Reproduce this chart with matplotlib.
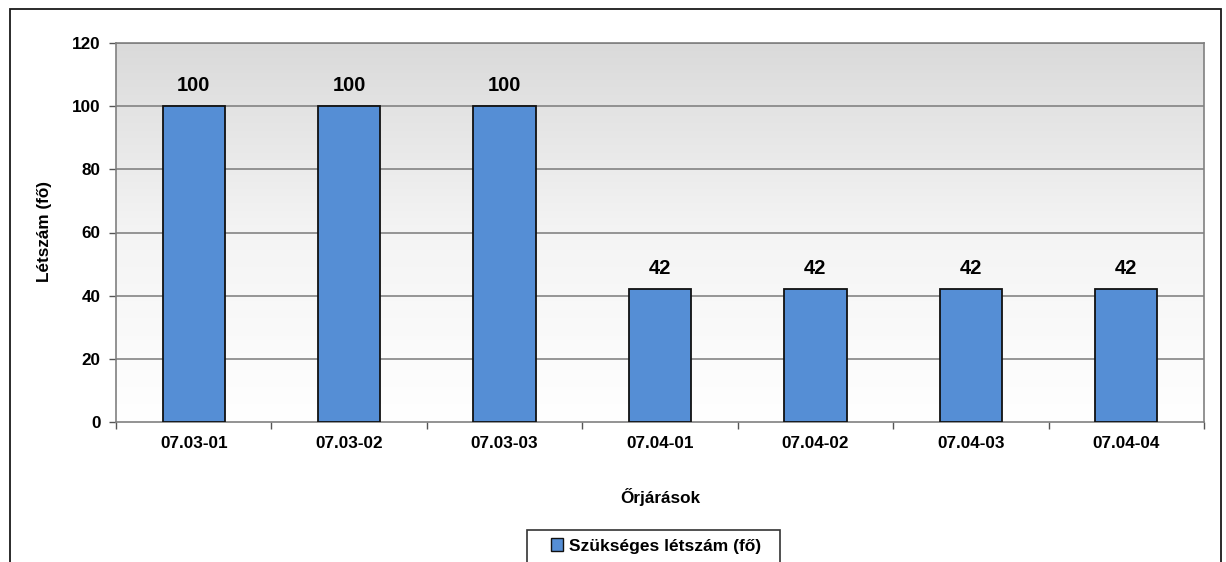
import numpy as np
import matplotlib
matplotlib.use("Agg")
import matplotlib.pyplot as plt
from matplotlib.patches import Rectangle, Patch

categories = ["07.03-01", "07.03-02", "07.03-03", "07.04-01", "07.04-02", "07.04-03", "07.04-04"]
values = [100, 100, 100, 42, 42, 42, 42]
y_ticks = [0, 20, 40, 60, 80, 100, 120]
series_name = "Szükséges létszám (fő)"
x_title = "Őrjárások"
y_title = "Létszám (fő)"

plt.rcParams["font.family"] = ["Liberation Sans", "DejaVu Sans"]
plt.rcParams["font.weight"] = "bold"

W, H = 1226, 562
fig = plt.figure(figsize=(W / 100, H / 100), dpi=100)
fig.patch.set_facecolor("white")

# chart-area border
fig.patches.append(Rectangle((10 / W, -0.05), (1221 - 10) / W, 1.05 - 9 / H,
                             transform=fig.transFigure, fill=False,
                             edgecolor="#1a1a1a", linewidth=1.3, zorder=0))

left, right, top, bottom = 116, 1204, 43, 422
ax = fig.add_axes([left / W, 1 - bottom / H, (right - left) / W, (bottom - top) / H])

n = len(categories)
x = np.arange(n)
ax.set_xlim(-0.5, n - 0.5)
ax.set_ylim(0, 120)

# plot-area background: gray at the top fading to white
grad = np.linspace(0, 1, 256).reshape(-1, 1)
cmap = matplotlib.colors.LinearSegmentedColormap.from_list("bg", ["#ffffff", "#f4f4f4", "#dadada"])
ax.imshow(grad, aspect="auto", cmap=cmap, origin="lower",
          extent=(-0.5, n - 0.5, 0, 120), zorder=0)

for yv in y_ticks[1:]:
    ax.axhline(yv, color="#7a7a7a", linewidth=1.1, zorder=1)

bars = ax.bar(x, values, width=0.4, color="#558ed5", edgecolor="#111111",
              linewidth=1.3, zorder=3)
for xi, v in zip(x, values):
    ax.text(xi, v + 3.5, f"{v}", ha="center", va="bottom", fontsize=14.5,
            fontweight="bold", color="black", zorder=4)

ax.set_yticks(y_ticks)
ax.set_yticklabels([str(t) for t in y_ticks], fontsize=12.3, fontweight="bold")
ax.set_xticks(x)
ax.set_xticklabels(categories, fontsize=12.3, fontweight="bold")
ax.tick_params(axis="x", length=0, pad=10)
ax.set_xticks(np.arange(-0.5, n, 1.0), minor=True)
ax.tick_params(axis="x", which="minor", length=5, direction="out", color="#555555", width=1)
ax.tick_params(axis="y", length=5, direction="out", color="#555555", width=1, pad=6)

for side in ["top", "right", "left", "bottom"]:
    ax.spines[side].set_color("#808080")
    ax.spines[side].set_linewidth(1.2)

fig.text(45 / W, 1 - 232 / H, y_title, rotation=90, ha="center", va="center",
         fontsize=12.3, fontweight="bold")
fig.text(660 / W, 1 - 497 / H, x_title, ha="center", va="center",
         fontsize=12.3, fontweight="bold")

# legend box, running past the lower edge of the figure
fig.patches.append(Rectangle((527 / W, -0.05), (780 - 527) / W, 0.05 + 1 - 530 / H,
                             transform=fig.transFigure, facecolor="white",
                             edgecolor="#333333", linewidth=1.2, zorder=1))
handle = Patch(facecolor="#558ed5", edgecolor="#111111", linewidth=1)
leg = fig.legend([handle], [series_name], loc="center",
                 bbox_to_anchor=(656 / W, 1 - 546 / H), frameon=False,
                 prop={"size": 12.5, "weight": "bold"}, handlelength=0.7, handleheight=0.7,
                 handletextpad=0.3, borderpad=0, borderaxespad=0)
leg.set_zorder(2)

fig.savefig("out.png", dpi=100)
